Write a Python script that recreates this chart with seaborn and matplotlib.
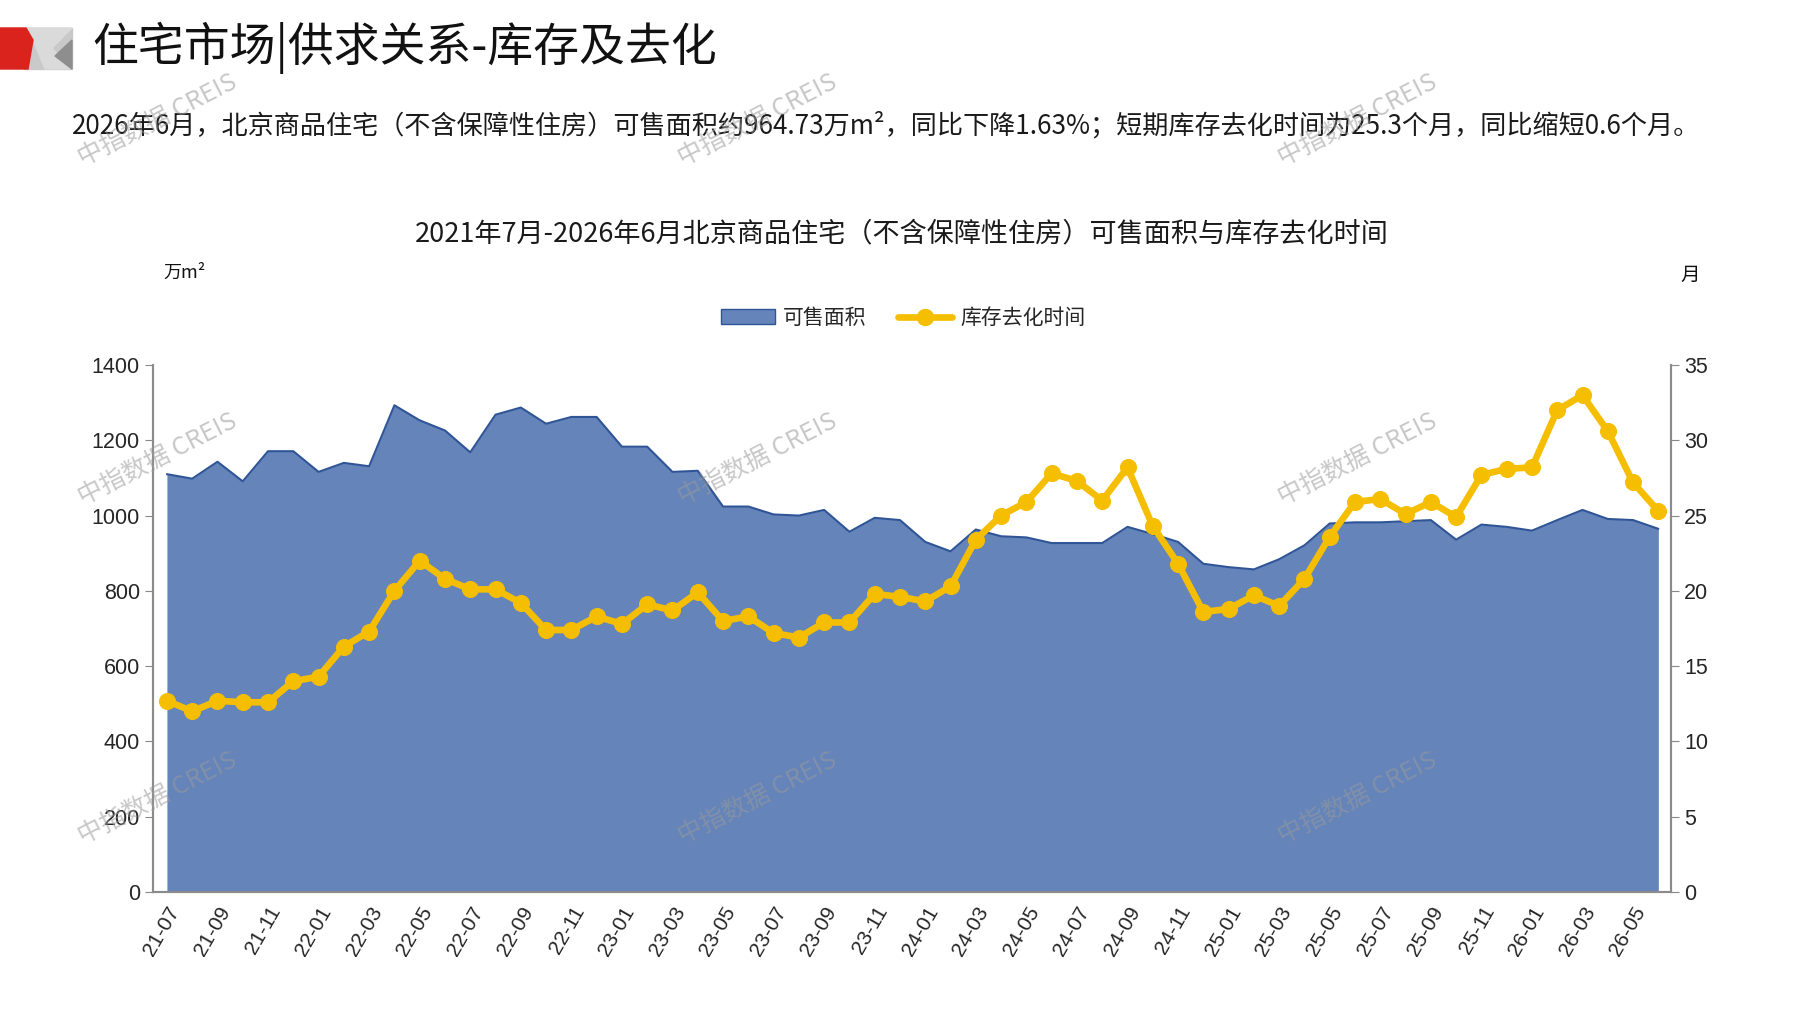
import numpy as np
import pandas as pd
import seaborn as sns
import matplotlib.pyplot as plt
from matplotlib.patches import Polygon, Patch
from matplotlib.lines import Line2D

# 数据 (2021-07 ~ 2026-06)
months = [f"{y % 100:02d}-{m:02d}" for y in range(2021, 2027) for m in range(1, 13)]
months = months[6:66]

area = [1110, 1098, 1143, 1091, 1171, 1171, 1116, 1140, 1131, 1293,
        1253, 1226, 1168, 1268, 1287, 1244, 1262, 1262, 1183, 1183,
        1116, 1119, 1024, 1024, 1003, 1000, 1015, 957, 994, 988,
        930, 905, 963, 945, 942, 927, 927, 927, 970, 951,
        930, 872, 863, 857, 884, 921, 979, 982, 982, 985,
        988, 936, 976, 970, 960, 988, 1015, 991, 988, 964.73]

destock = [12.7, 12.0, 12.7, 12.6, 12.6, 14.0, 14.3, 16.3, 17.3, 20.0,
           22.0, 20.8, 20.1, 20.1, 19.2, 17.4, 17.4, 18.3, 17.8, 19.1,
           18.7, 19.9, 18.0, 18.3, 17.2, 16.9, 17.9, 17.9, 19.8, 19.6,
           19.3, 20.3, 23.4, 25.0, 25.9, 27.8, 27.3, 26.0, 28.2, 24.3,
           21.8, 18.6, 18.8, 19.7, 19.0, 20.8, 23.6, 25.9, 26.1, 25.1,
           25.9, 24.9, 27.7, 28.1, 28.2, 32.0, 33.0, 30.6, 27.2, 25.3]

df = pd.DataFrame({"month": months, "area": area, "destock": destock})
df["idx"] = np.arange(len(df))

BLUE = "#6484BA"
EDGE = "#2F5597"
GOLD = "#F6BE00"
CJK = ["Noto Sans CJK SC", "DejaVu Sans"]
NUM = ["Liberation Sans", "DejaVu Sans"]

sns.set_style("white")
plt.rcParams["font.family"] = CJK

W, H = 1797, 1010
fig = plt.figure(figsize=(W / 100, H / 100), dpi=100)

ax = fig.add_axes([153 / W, 1 - 892 / H, (1671 - 153) / W, (892 - 365) / H])
ax.fill_between(df["idx"], df["area"], 0, color=BLUE, lw=0, zorder=1)
sns.lineplot(data=df, x="idx", y="area", ax=ax, color=EDGE, lw=1.5, zorder=2)
ax.set_xlim(-0.55, 59.5)
ax.set_ylim(0, 1400)
ax.set_yticks(range(0, 1401, 200))
ax.set_xticks(df["idx"][::2])
ax.set_xticklabels(df["month"][::2], rotation=60, ha="right", rotation_mode="anchor",
                   fontsize=15, family=NUM)
for lab in ax.get_yticklabels():
    lab.set_family(NUM)
ax.tick_params(axis="y", labelsize=15.5, length=6, color="#888888", direction="out", left=True)
ax.tick_params(axis="x", length=0, pad=8)
ax.set_xlabel("")
ax.set_ylabel("")

ax2 = ax.twinx()
sns.lineplot(data=df, x="idx", y="destock", ax=ax2, color=GOLD, lw=4.8,
             marker="o", markersize=11.5, markeredgecolor=GOLD, zorder=3)
ax2.set_ylim(0, 35)
ax2.set_yticks(range(0, 36, 5))
for lab in ax2.get_yticklabels():
    lab.set_family(NUM)
ax2.tick_params(axis="y", labelsize=15.5, length=6, color="#888888", direction="out", right=True)
ax2.set_ylabel("")

for a in (ax, ax2):
    a.spines["top"].set_visible(False)
    for s in ("left", "right", "bottom"):
        a.spines[s].set_color("#8C8C8C")
        a.spines[s].set_linewidth(1.5)

# 图例
handles = [Patch(facecolor=BLUE, edgecolor=EDGE, label="可售面积"),
           Line2D([], [], color=GOLD, lw=4.8, marker="o", markersize=11.5, label="库存去化时间")]
fig.legend(handles=handles, loc="center", bbox_to_anchor=(903 / W, 1 - 318 / H), ncol=2,
           frameon=False, fontsize=15, handlelength=2.6, columnspacing=1.5, handletextpad=0.4)

# 叠加层：标题、说明、水印、标志
ov = fig.add_axes([0, 0, 1, 1], zorder=10)
ov.set_xlim(0, W)
ov.set_ylim(H, 0)
ov.axis("off")
ov.patch.set_alpha(0)

ov.add_patch(Polygon([[24, 28], [72, 28], [72, 69], [24, 69]], color="#C9C9C9"))
ov.add_patch(Polygon([[28, 28], [72, 28], [52, 48], [70, 69], [45, 69]], color="#DADADA"))
ov.add_patch(Polygon([[72, 40], [72, 69], [55, 56]], color="#8E8E8E"))
ov.add_patch(Polygon([[0, 28], [26, 28], [33, 40], [28, 69], [0, 69]], color="#D9231C"))

ov.text(92, 48, "住宅市场|供求关系-库存及去化", fontsize=33, va="center", ha="left", color="#111111")
ov.text(72, 126, "2026年6月，北京商品住宅（不含保障性住房）可售面积约964.73万m²，同比下降1.63%；"
        "短期库存去化时间为25.3个月，同比缩短0.6个月。",
        fontsize=18.8, va="center", ha="left", color="#1A1A1A")
ov.text(902, 234, "2021年7月-2026年6月北京商品住宅（不含保障性住房）可售面积与库存去化时间",
        fontsize=19.5, va="center", ha="center", color="#1A1A1A")
ov.text(184, 273, "万m²", fontsize=13, va="center", ha="center", color="#111111")
ov.text(1690, 275, "月", fontsize=14, va="center", ha="center", color="#111111")

for wx in (158, 758, 1358):
    for wy in (120, 459, 798):
        ov.text(wx, wy, "中指数据 CREIS", fontsize=18, rotation=27, ha="center", va="center",
                color="#9A9A9A", alpha=0.55, family=["Noto Sans CJK SC", "Liberation Sans"])

fig.savefig("out.png", dpi=100)
